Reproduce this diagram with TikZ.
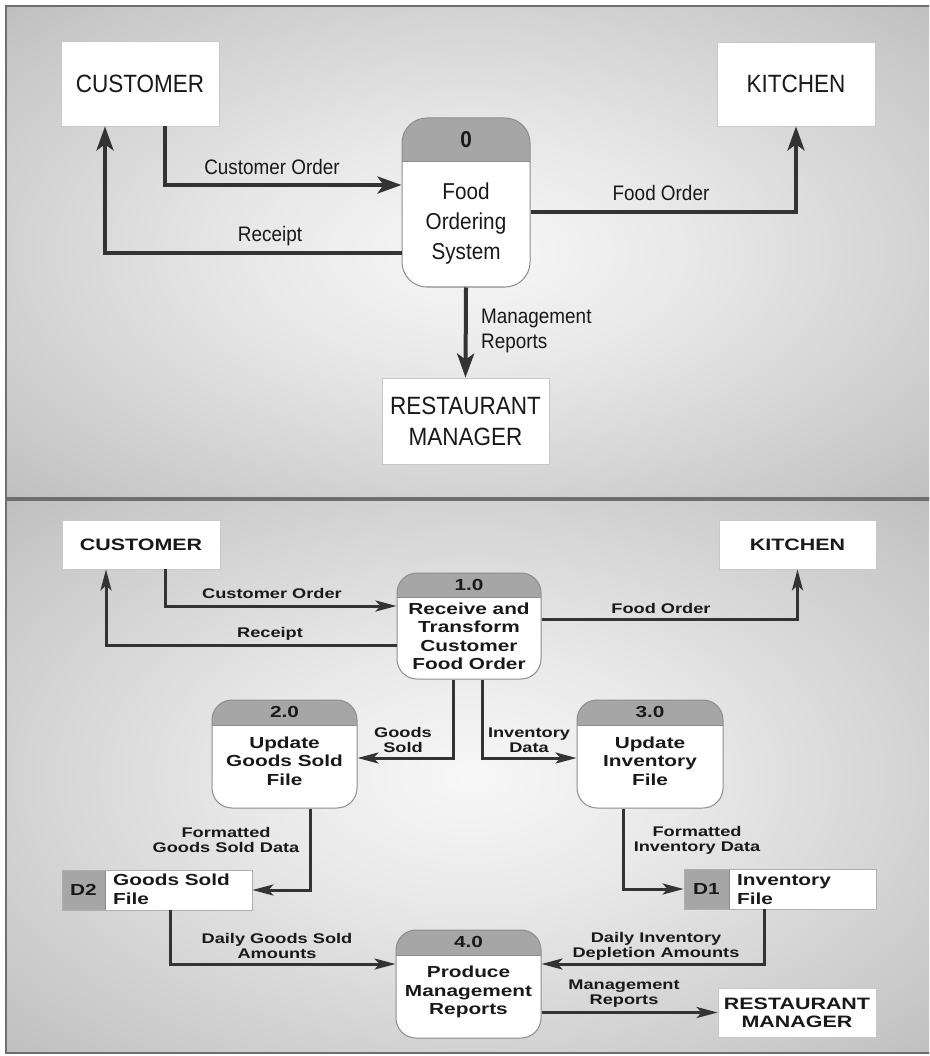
\documentclass[tikz,border=0pt]{standalone}
\usepackage{fontspec}
\setmainfont{Liberation Sans}
\newfontfamily\topfont[FakeStretch=0.9]{Liberation Sans}
\newfontfamily\botfont[FakeStretch=1.3]{Liberation Sans Bold}
\usetikzlibrary{arrows.meta}

\definecolor{flowgray}{HTML}{333333}
\definecolor{hdrgray}{HTML}{A6A6A6}
\definecolor{edgegray}{HTML}{8C8C8C}
\definecolor{boxline}{HTML}{C8C8C8}
\definecolor{framegray}{HTML}{6E6E6E}

\pgfdeclareradialshading{panelglow}{\pgfpoint{0bp}{0bp}}{%
  color(0bp)=(black!3); color(12bp)=(black!9); color(30bp)=(black!21);
  color(50bp)=(black!36); color(72bp)=(black!48)}

\begin{document}
\begin{tikzpicture}[x=1pt,y=-1pt,
    every node/.style={inner sep=0pt, text=black!90},
    entity/.style={draw=boxline, fill=white, line width=0.8pt, align=center},
    proc/.style 2 args={draw=edgegray, fill=white, line width=1pt, rounded corners=#1,
      path picture={\fill[hdrgray, sharp corners] (path picture bounding box.north west) rectangle ([yshift=-#2]path picture bounding box.north east);
        \draw[edgegray, line width=1pt] ([yshift=-#2]path picture bounding box.north west) -- ([yshift=-#2]path picture bounding box.north east);}},
    store/.style={draw=edgegray!70, fill=white, line width=0.8pt,
      path picture={\fill[hdrgray] (path picture bounding box.north west) rectangle ([xshift=#1]path picture bounding box.south west);
        \draw[edgegray] ([xshift=#1]path picture bounding box.north west) -- ([xshift=#1]path picture bounding box.south west);}},
    topflow/.style={draw=flowgray, line width=4pt, -{Stealth[length=24pt,width=17pt,inset=6pt]}},
    botflow/.style={draw=flowgray, line width=3pt, -{Stealth[length=21pt,width=11pt,inset=5pt]}},
    topent/.style={font=\topfont\fontsize{25}{31}\selectfont},
    toptext/.style={align=center, font=\topfont\fontsize{23}{30}\selectfont},
    toplbl/.style={align=left, font=\topfont\fontsize{21}{25}\selectfont},
    topid/.style={font=\topfont\bfseries\fontsize{23}{28}\selectfont},
    botent/.style={font=\botfont\fontsize{16.5}{18}\selectfont},
    bottext/.style={align=center, font=\botfont\fontsize{16}{18.5}\selectfont},
    botlbl/.style={align=center, font=\botfont\fontsize{14}{15}\selectfont},
    botid/.style={font=\botfont\fontsize{16}{18}\selectfont}]
  \useasboundingbox (0,0) rectangle (929,1056);
  \clip (0,0) rectangle (929,1056);
  \fill[white] (0,0) rectangle (929,1056);
  % panels
  \shade[shading=panelglow] (6,6) rectangle (935,498);
  \draw[framegray, line width=1.5pt] (6,6) rectangle (935,498);
  \shade[shading=panelglow] (6,500) rectangle (935,1053);
  \draw[framegray, line width=1.5pt] (6,500) rectangle (935,1053);

  % context level
  \node[entity, topent, minimum width=158pt, minimum height=85pt] (cust0) at (140,83.5) {CUSTOMER};
  \node[entity, topent, minimum width=158pt, minimum height=84pt] (kit0) at (796,84) {KITCHEN};
  \node[entity, topent, minimum width=167pt, minimum height=86pt] (mgr0) at (465.5,421) {RESTAURANT\\MANAGER};
  \node[proc={25pt}{44pt}, minimum width=128pt, minimum height=169pt] (p0) at (466,202.5) {};
  \node[topid] (p0id) at ([yshift=-22pt]p0.north) {0};
  \node[toptext] (p0txt) at ([yshift=-21pt]p0.center) {Food\\Ordering\\System};

  \draw[topflow] ([xshift=25pt]cust0.south) |- ([yshift=17.5pt]p0.west);
  \draw[topflow] ([yshift=-50.5pt]p0.west) -| ([xshift=-35pt]cust0.south);
  \draw[topflow] ([yshift=-9.5pt]p0.east) -| (kit0.south);
  \draw[topflow] (p0.south) -- (mgr0.north);

  \node[toplbl] (lco0) at (272,167) {Customer Order};
  \node[toplbl] (lrc0) at (270,236) {Receipt};
  \node[toplbl] (lfo0) at (661,193) {Food Order};
  \node[toplbl, anchor=west] (lmr0) at (481,330.5) {Management\\Reports};

  % level 0
  \node[entity, botent, minimum width=158pt, minimum height=49pt] (cust1) at (141,544.5) {CUSTOMER};
  \node[entity, botent, minimum width=157pt, minimum height=49pt] (kit1) at (797.5,544.5) {KITCHEN};
  \node[entity, botent, minimum width=158pt, minimum height=49pt] (mgr1) at (797,1012.5) {RESTAURANT\\MANAGER};

  \node[proc={20pt}{24pt}, minimum width=144pt, minimum height=106pt] (p1) at (469,626) {};
  \node[botid] (p1id) at ([yshift=-12pt]p1.north) {1.0};
  \node[bottext] (p1txt) at ([yshift=-10.5pt]p1.center) {Receive and\\Transform\\Customer\\Food Order};
  \node[proc={20pt}{25pt}, minimum width=145pt, minimum height=108pt] (p2) at (284.5,754) {};
  \node[botid] (p2id) at ([yshift=-12.5pt]p2.north) {2.0};
  \node[bottext] (p2txt) at ([yshift=-7pt]p2.center) {Update\\Goods Sold\\File};
  \node[proc={20pt}{25pt}, minimum width=146pt, minimum height=108pt] (p3) at (650,754) {};
  \node[botid] (p3id) at ([yshift=-12.5pt]p3.north) {3.0};
  \node[bottext] (p3txt) at ([yshift=-7pt]p3.center) {Update\\Inventory\\File};
  \node[proc={20pt}{25pt}, minimum width=145pt, minimum height=108pt] (p4) at (468.5,984) {};
  \node[botid] (p4id) at ([yshift=-12.5pt]p4.north) {4.0};
  \node[bottext] (p4txt) at ([yshift=-8pt]p4.center) {Produce\\Management\\Reports};

  \node[store=43pt, minimum width=190pt, minimum height=40pt] (ds2) at (157,890) {};
  \node[botid] (ds2id) at (83.5,890) {D2};
  \node[bottext, anchor=west, align=left] (ds2txt) at (113,889.5) {Goods Sold\\File};
  \node[store=45pt, minimum width=192pt, minimum height=40pt] (ds1) at (780,889) {};
  \node[botid] (ds1id) at (706.5,889) {D1};
  \node[bottext, anchor=west, align=left] (ds1txt) at (737,889.5) {Inventory\\File};

  \draw[botflow] ([xshift=24pt]cust1.south) |- ([yshift=20pt]p1.west);
  \draw[botflow] ([yshift=-19pt]p1.west) -| ([xshift=-35pt]cust1.south);
  \draw[botflow] ([yshift=7pt]p1.east) -| (kit1.south);
  \draw[botflow] ([xshift=-16pt]p1.south) |- ([yshift=-4pt]p2.east);
  \draw[botflow] ([xshift=13pt]p1.south) |- ([yshift=-4pt]p3.west);
  \draw[botflow] ([xshift=25.5pt]p2.south) |- (ds2.east);
  \draw[botflow] ([xshift=-27pt]p3.south) |- (ds1.west);
  \draw[botflow] ([xshift=13pt]ds2.south) |- ([yshift=20pt]p4.west);
  \draw[botflow] ([xshift=-16pt]ds1.south) |- ([yshift=20pt]p4.east);
  \draw[botflow] (p4.east |- mgr1.west) -- (mgr1.west);

  \node[botlbl] (lco1) at (272,593) {Customer Order};
  \node[botlbl] (lrc1) at (270,634) {Receipt};
  \node[botlbl] (lfo1) at (661,608) {Food Order};
  \node[botlbl] (lgs1) at (403,740) {Goods\\Sold};
  \node[botlbl] (lid1) at (529,740) {Inventory\\Data};
  \node[botlbl] (lfg1) at (226,840) {Formatted\\Goods Sold Data};
  \node[botlbl] (lfi1) at (697,840) {Formatted\\Inventory Data};
  \node[botlbl] (ldg1) at (277,945.5) {Daily Goods Sold\\Amounts};
  \node[botlbl] (ldi1) at (656,946.5) {Daily Inventory\\Depletion Amounts};
  \node[botlbl] (lmr1) at (624,993.5) {Management\\Reports};
\end{tikzpicture}
\end{document}
